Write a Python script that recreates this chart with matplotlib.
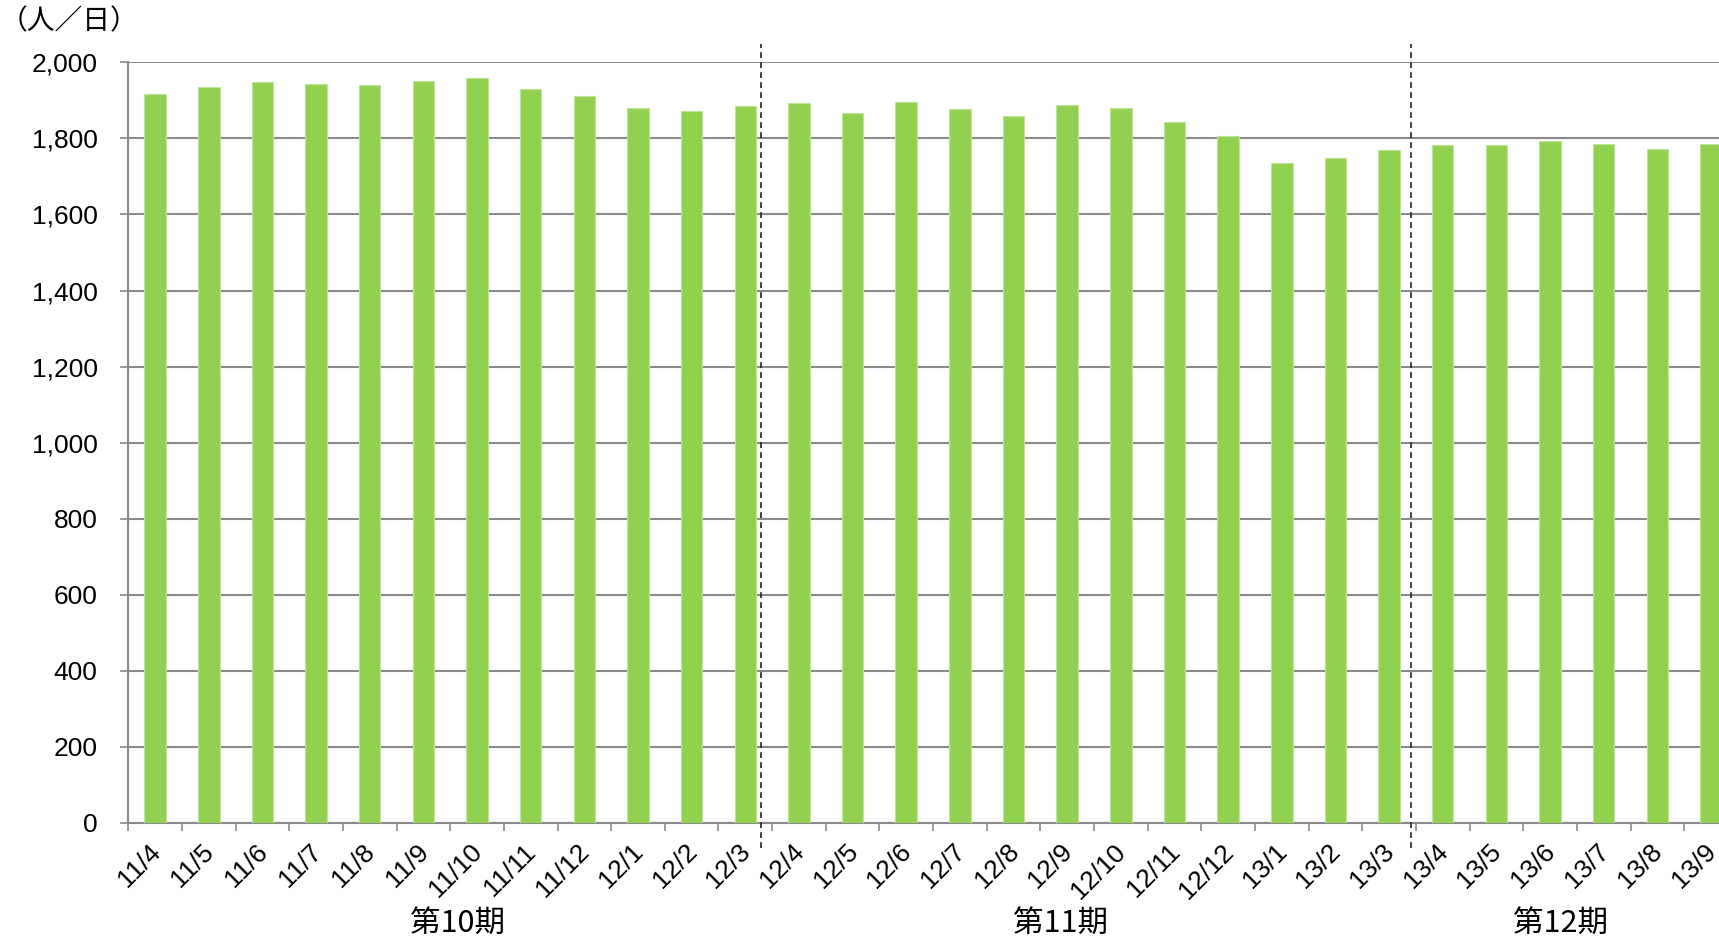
import matplotlib
matplotlib.use("Agg")
import matplotlib.pyplot as plt
import matplotlib.transforms as mtransforms
import numpy as np

# ---- data ----
months = ["11/4", "11/5", "11/6", "11/7", "11/8", "11/9", "11/10", "11/11", "11/12",
          "12/1", "12/2", "12/3", "12/4", "12/5", "12/6", "12/7", "12/8", "12/9",
          "12/10", "12/11", "12/12", "13/1", "13/2", "13/3", "13/4", "13/5", "13/6",
          "13/7", "13/8", "13/9"]
visitors = [1916, 1935, 1947, 1943, 1940, 1952, 1960, 1930, 1911,
            1881, 1872, 1885, 1892, 1868, 1896, 1877, 1859, 1888,
            1879, 1844, 1807, 1735, 1748, 1770, 1782, 1782, 1793,
            1785, 1772, 1785]
periods = ["第10期", "第11期", "第12期"]
period_label_x = [5.63, 16.88, 26.2]
period_divider_x = [11.29, 23.41]
y_ticks = list(range(0, 2001, 200))
y_unit = "（人／日）"

W, H = 1719, 940
fig = plt.figure(figsize=(W / 100, H / 100), dpi=100)

ax_left, ax_right = 128.3, 128.3 + 30 * 53.65
ax_top, ax_bottom = 62.3, 823.0
ax = fig.add_axes([ax_left / W, 1 - ax_bottom / H, (ax_right - ax_left) / W, (ax_bottom - ax_top) / H])

x = np.arange(len(months))
ax.bar(x, visitors, width=0.40, color="#92D050", edgecolor="#BFE59A", linewidth=0.8, zorder=3)

ax.set_xlim(-0.5, len(months) - 0.5)
ax.set_ylim(0, 2000)

grid_c = "#8A8A8A"
ax.set_yticks(y_ticks)
ax.set_yticklabels([f"{v:,}" for v in y_ticks], fontsize=19, family="Liberation Sans")
ax.yaxis.grid(True, color=grid_c, linewidth=1.5, zorder=0)
ax.tick_params(axis="y", length=6, width=1.2, color=grid_c, pad=16)

ax.set_xticks(x)
ax.set_xticklabels(months, fontsize=19, family="Liberation Sans", rotation=45,
                   ha="right", va="center", rotation_mode="anchor")
ax.set_xticks(np.arange(len(months) + 1) - 0.5, minor=True)
ax.tick_params(axis="x", which="major", length=0, pad=18)
ax.tick_params(axis="x", which="minor", length=6, width=1.2, color=grid_c)
offset = mtransforms.ScaledTranslation(1 / 72, 0, fig.dpi_scale_trans)
for lab in ax.get_xticklabels():
    lab.set_transform(lab.get_transform() + offset)

for s in ["top", "right"]:
    ax.spines[s].set_visible(False)
for s in ["left", "bottom"]:
    ax.spines[s].set_color(grid_c)
    ax.spines[s].set_linewidth(1.5)

trans = mtransforms.blended_transform_factory(ax.transData, ax.transAxes)
y_top = (ax_bottom - 44) / (ax_bottom - ax_top)
y_bot = (ax_bottom - 848) / (ax_bottom - ax_top)
for dx in period_divider_x:
    ax.plot([dx, dx], [y_bot, y_top], transform=trans, color="#222222", linewidth=1.2,
            linestyle=(0, (3.5, 2.5)), clip_on=False, zorder=5)

py = (ax_bottom - 924) / (ax_bottom - ax_top)
for px, lab in zip(period_label_x, periods):
    ax.text(px, py, lab, transform=trans, ha="center", va="center", fontsize=22,
            family=["Noto Sans CJK JP", "DejaVu Sans"])

fig.text(0 / W, 1 - 6 / H, y_unit, ha="left", va="top", fontsize=20,
         family=["Noto Sans CJK JP", "DejaVu Sans"])

fig.savefig("out.png", dpi=100)
